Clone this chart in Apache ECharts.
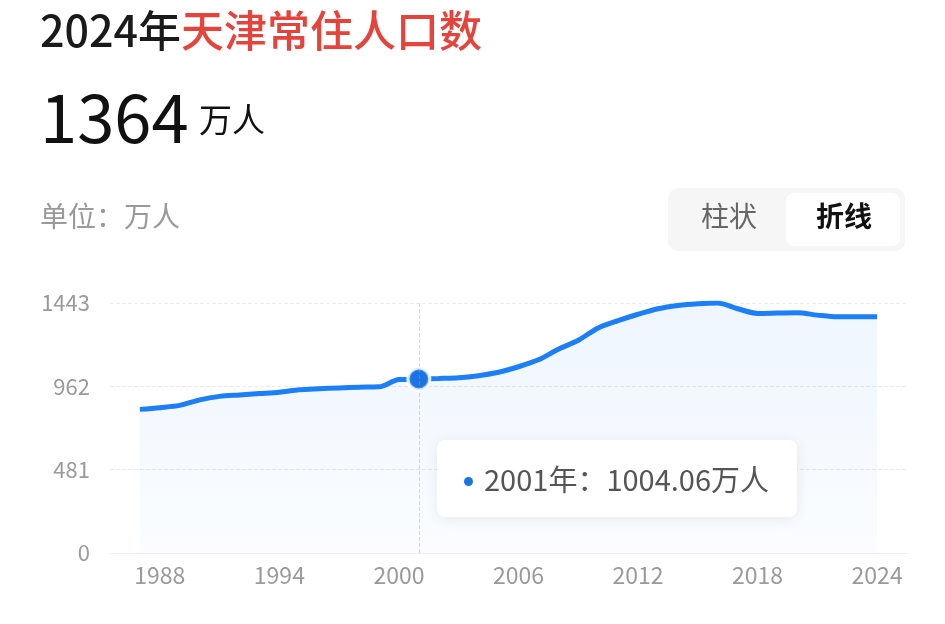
<!DOCTYPE html>
<html><head><meta charset="utf-8">
<script src="https://cdn.jsdelivr.net/npm/echarts@6/dist/echarts.min.js"></script>
<style>html,body{margin:0;padding:0;background:#fff}#c{width:945px;height:624px}</style>
</head><body><div id="c"></div>
<script>
const years = [1987,1988,1989,1990,1991,1992,1993,1994,1995,1996,1997,1998,1999,2000,2001,2002,2003,2004,2005,2006,2007,2008,2009,2010,2011,2012,2013,2014,2015,2016,2017,2018,2019,2020,2021,2022,2023,2024];
const population = [829,839,852,884,904,912,920,928,942,948,953,957,959,1001.14,1004.06,1007.18,1011.30,1023.67,1043,1075,1115,1176,1228,1299,1341,1378,1410,1429,1439,1443,1410,1383,1385,1387,1373,1363,1364,1364];
const yTickStep = 481;
const yMax = 1443;
const xLabelYears = [1988,1994,2000,2006,2012,2018,2024];
const highlightYear = 2001;
const titleYear = '2024年';
const titleName = '天津常住人口数';
const headlineValue = '1364';
const unit = '万人';

const FONT = '"Noto Sans CJK SC","Noto Sans",sans-serif';
const BLUE = '#1a74e2';
const seriesData = years.map((y, i) => [y, population[i]]);
const hi = years.indexOf(highlightYear);

const chart = echarts.init(document.getElementById('c'), null, {renderer: 'canvas'});
chart.setOption({
  animation: false,
  backgroundColor: '#fff',
  textStyle: {fontFamily: FONT},
  grid: {left: 110, right: 38, top: 303, bottom: 71},
  graphic: [
    {type: 'text', left: 40, top: 9, style: {
      text: '{a|' + titleYear + '}{b|' + titleName + '}',
      rich: {
        a: {fontSize: 43, fontWeight: 500, fill: '#1a1a1a', fontFamily: FONT},
        b: {fontSize: 43, fontWeight: 500, fill: '#e5443d', fontFamily: FONT}
      }
    }},
    {type: 'text', left: 40, top: 84, style: {
      text: '{n|' + headlineValue + '}',
      rich: {
        n: {fontSize: 67, fill: '#111', fontFamily: FONT, verticalAlign: 'bottom', lineHeight: 72}
      }
    }},
    {type: 'text', left: 199, top: 103, style: {
      text: unit, fontSize: 33, fill: '#111', fontFamily: FONT
    }},
    {type: 'text', left: 40, top: 202, style: {
      text: '单位：' + unit, fontSize: 28, fill: '#9a9a9a', fontFamily: FONT
    }},
    {type: 'rect', left: 668, top: 188, shape: {width: 237, height: 63, r: 10}, style: {fill: '#f6f6f6'}},
    {type: 'rect', left: 786, top: 193, shape: {width: 114, height: 53, r: 8}, style: {fill: '#ffffff'}},
    {type: 'text', left: 701, top: 202, style: {text: '柱状', fontSize: 28, fill: '#666', fontFamily: FONT}},
    {type: 'text', left: 816, top: 202, style: {text: '折线', fontSize: 28, fontWeight: 'bold', fill: '#111', fontFamily: FONT}}
  ],
  tooltip: {
    trigger: 'axis',
    triggerOn: 'none',
    alwaysShowContent: true,
    position: function () { return [437, 440]; },
    backgroundColor: '#fff',
    borderWidth: 0,
    padding: [0, 0, 0, 27],
    extraCssText: 'border-radius:8px;box-shadow:0 2px 14px rgba(0,0,0,0.07);',
    axisPointer: {type: 'line', lineStyle: {color: '#d8d8d8', type: 'dashed', width: 1}},
    formatter: function (params) {
      const p = params[0];
      return '<div style="width:333px;height:77px;line-height:77px;font-size:29px;color:#555;font-family:' + FONT.replace(/"/g, "'") + '">' +
        '<span style="display:inline-block;width:9px;height:9px;border-radius:50%;background:' + BLUE + ';margin-right:11px;vertical-align:middle;position:relative;top:-2px"></span>' +
        p.value[0] + '年：' + p.value[1].toFixed(2) + unit + '</div>';
    }
  },
  xAxis: {
    type: 'value', min: 1985.5, max: 2025.5, interval: 0.5,
    axisLine: {show: true, lineStyle: {color: '#eeeeee'}},
    axisTick: {show: false},
    splitLine: {show: false},
    axisLabel: {
      color: '#9a9a9a', fontSize: 23, margin: 11, fontFamily: FONT,
      showMinLabel: true, showMaxLabel: true,
      formatter: v => xLabelYears.includes(v) ? String(v) : ''
    }
  },
  yAxis: {
    type: 'value', min: 0, max: yMax, interval: yTickStep,
    axisLine: {show: false}, axisTick: {show: false},
    splitLine: {lineStyle: {color: '#ebebeb', type: 'dashed'}},
    axisLabel: {color: '#9a9a9a', fontSize: 22, margin: 20, fontFamily: FONT, formatter: v => String(v)}
  },
  series: [
    {
      type: 'line', data: seriesData, smooth: 0.3, showSymbol: false,
      symbol: 'circle', symbolSize: 20,
      itemStyle: {color: BLUE, borderColor: '#fff', borderWidth: 3},
      emphasis: {scale: false},
      lineStyle: {color: BLUE, width: 5},
      areaStyle: {color: new echarts.graphic.LinearGradient(0, 0, 0, 1, [
        {offset: 0, color: 'rgba(26,116,226,0.10)'},
        {offset: 1, color: 'rgba(26,116,226,0.03)'}
      ])}
    },
    {
      type: 'scatter', data: [seriesData[hi]], symbol: 'circle', symbolSize: 22, zlevel: 1,
      itemStyle: {color: BLUE, borderColor: '#fff', borderWidth: 3},
      tooltip: {show: false}
    }
  ]
});
chart.dispatchAction({type: 'showTip', seriesIndex: 0, dataIndex: hi});
</script></body></html>
